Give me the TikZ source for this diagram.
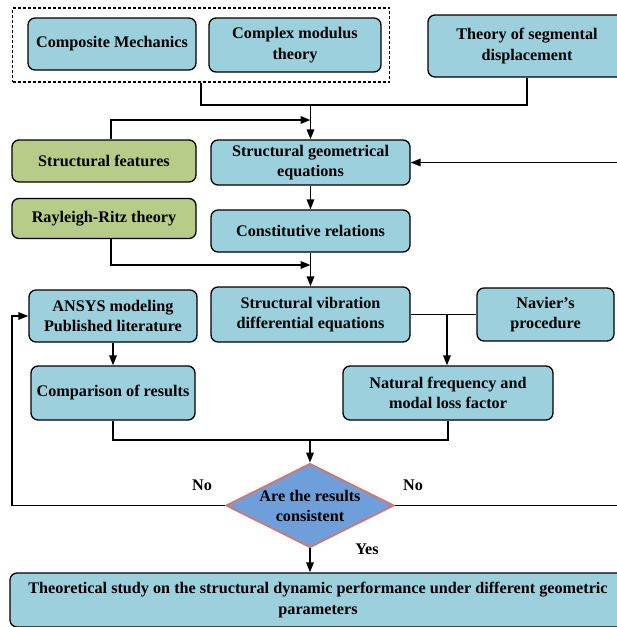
\documentclass[tikz,border=0pt]{standalone}
\usepackage{fontspec}
\setmainfont{Liberation Serif}
\usetikzlibrary{arrows.meta,shapes.geometric}
\definecolor{boxblue}{HTML}{9CD0DD}
\definecolor{boxgreen}{HTML}{B6CC88}
\definecolor{dblue}{HTML}{6F9FDB}
\definecolor{dred}{HTML}{D9736B}
\tikzset{
  box/.style={draw=black, line width=1.3pt, rounded corners=7pt, fill=boxblue,
    font=\bfseries\fontsize{16.2}{20.5}\selectfont, align=center, inner sep=0pt},
  gbox/.style={box, fill=boxgreen},
  txt/.style={font=\bfseries\fontsize{16.2}{20.5}\selectfont, align=center, inner sep=0pt},
  conn/.style={draw=black, line width=1.7pt},
  arr/.style={conn, -{Triangle[length=10pt,width=7.5pt]}},
}
\begin{document}
\begin{tikzpicture}[x=1pt,y=-1pt]
\useasboundingbox (0,0) rectangle (617,627);
\clip (0,0) rectangle (617,627);
% group
\node[draw=black, line width=1.5pt, dash pattern=on 3pt off 2pt, minimum width=377, minimum height=74, inner sep=0pt] (grp) at (201,45) {};
\node[box, minimum width=168, minimum height=52] (cm) at (112,44) {Composite Mechanics};
\node[box, minimum width=172, minimum height=54] (cmt) at (295,45) {Complex modulus\\theory};
\node[box, minimum width=198, minimum height=62] (seg) at (527,46) {Theory of segmental\\displacement};
\node[gbox, minimum width=184, minimum height=42] (sf) at (104,161) {Structural features};
\node[box, minimum width=199, minimum height=45] (sge) at (310.5,162.5) {Structural geometrical\\equations};
\node[gbox, minimum width=184, minimum height=40] (rr) at (104,218.5) {Rayleigh-Ritz theory};
\node[box, minimum width=199, minimum height=42] (cr) at (310.5,231) {Constitutive relations};
\node[box, minimum width=168, minimum height=52] (an) at (113,316) {ANSYS modeling\\Published literature};
\node[box, minimum width=199, minimum height=55] (sv) at (310.5,314.5) {Structural vibration\\differential equations};
\node[box, minimum width=137, minimum height=53] (nav) at (545.5,314.5) {Navier’s\\procedure};
\node[box, minimum width=164, minimum height=54] (cmp) at (113,393) {Comparison of results};
\node[box, minimum width=210, minimum height=54] (nf) at (448,393) {Natural frequency and\\modal loss factor};
\node[draw=dred, fill=dblue, line width=1.8pt, diamond, minimum width=168, minimum height=84, inner sep=0pt] (dia) at (310,505.5) {};
\node[txt] (diat) at (310,506) {Are the results\\consistent};
\node[box, minimum width=616, minimum height=54] (fin) at (318,600) {Theoretical study on the structural dynamic performance under different geometric\\parameters};
% labels
\node[txt] (no1) at (202,485) {No};
\node[txt] (no2) at (413,485) {No};
\node[txt] (yes) at (367,549) {Yes};
% coordinates
\coordinate (j1) at (310.5,105);
\coordinate (j2) at (310.5,120);
\coordinate (j3) at (310.5,265);
\coordinate (j4) at (447,314.5);
\coordinate (j5) at (310,440);
\coordinate (L) at (12,316);
\coordinate (R) at (630,162.5);
% connectors
\draw[conn] (grp.south) |- (j1) -| (seg.south);
\draw[arr] (j1) -- (sge.north);
\draw[arr] ([xshift=7pt]sf.north) |- (j2);
\draw[arr] (R) -- (sge.east);
\draw[arr] (sge.south) -- (cr.north);
\draw[arr] ([xshift=7pt]rr.south) |- (j3);
\draw[arr] (cr.south) -- (sv.north);
\draw[conn] (sv.east) -- (nav.west);
\draw[arr] (j4) -- (j4 |- nf.north);
\draw[arr] (an.south) -- (cmp.north);
\draw[conn] (cmp.south) |- (j5) -| (nf.south);
\draw[arr] (j5) -- (dia.north);
\draw[arr] (dia.west) -| (L) -- (an.west);
\draw[conn] (dia.east) -| (R);
\draw[arr] (dia.south) -- (dia.south |- fin.north);
\end{tikzpicture}
\end{document}
